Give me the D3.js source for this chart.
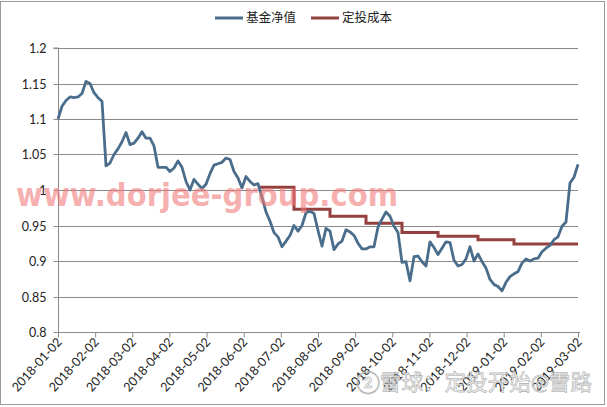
<!DOCTYPE html>
<html><head><meta charset="utf-8">
<script src="https://cdn.jsdelivr.net/npm/d3@7"></script>
<style>body{margin:0;background:#fff}svg{display:block}text{font-family:Lato,"Noto Sans CJK SC",sans-serif}</style>
</head><body>
<script>
const monthLabels = ["2018-01-02","2018-02-02","2018-03-02","2018-04-02","2018-05-02","2018-06-02","2018-07-02","2018-08-02","2018-09-02","2018-10-02","2018-11-02","2018-12-02","2019-01-02","2019-02-02","2019-03-02"];
const yTicks = [0.8,0.85,0.9,0.95,1,1.05,1.1,1.15,1.2];
const seriesNames = ["基金净值","定投成本"];
const nav = [1.100,1.118,1.126,1.131,1.130,1.131,1.136,1.153,1.150,1.137,1.130,1.125,1.034,1.038,1.050,1.058,1.068,1.081,1.064,1.066,
1.073,1.082,1.073,1.073,1.062,1.032,1.032,1.032,1.026,1.031,1.041,1.032,1.012,1.000,1.015,1.008,1.002,1.008,1.023,1.035,
1.037,1.039,1.045,1.043,1.026,1.017,1.003,1.019,1.012,1.007,1.009,0.990,0.969,0.956,0.940,0.934,0.920,0.928,0.936,0.950,
0.942,0.950,0.968,0.970,0.967,0.943,0.921,0.946,0.942,0.916,0.924,0.928,0.944,0.941,0.936,0.925,0.917,0.917,0.920,0.920,
0.948,0.959,0.969,0.963,0.949,0.940,0.898,0.899,0.872,0.906,0.907,0.899,0.893,0.927,0.919,0.909,0.918,0.927,0.926,0.901,
0.893,0.895,0.903,0.920,0.900,0.910,0.899,0.890,0.874,0.867,0.864,0.858,0.870,0.878,0.882,0.885,0.897,0.903,0.900,0.903,
0.904,0.913,0.918,0.922,0.930,0.934,0.949,0.955,1.010,1.018,1.036];
const cost = [].concat(
  Array(50).fill(null),
  Array(10).fill(1.004),
  Array(9).fill(0.973),
  Array(9).fill(0.963),
  Array(9).fill(0.953),
  Array(9).fill(0.940),
  Array(10).fill(0.935),
  Array(9).fill(0.930),
  Array(16).fill(0.924)
);
const watermark1 = "www.dorjee-group.com";
const watermark2 = "②雪球：定投开始@雪路";

const W=607,H=407, L=58, R=578, T=48, B=332;
const svg=d3.select("body").append("svg").attr("width",W).attr("height",H);
svg.append("rect").attr("x",0.5).attr("y",1.5).attr("width",W-3).attr("height",H-4).attr("fill","#fff").attr("stroke","#9a9a9a");

const x=d3.scaleLinear().domain([0,nav.length-1]).range([L,R]);
const xc=d3.scalePoint().domain(monthLabels).range([L,R]);
const y=d3.scaleLinear().domain([0.8,1.2]).range([B,T]);

svg.append("g").selectAll("line").data(yTicks.slice(1)).join("line")
  .attr("x1",L).attr("x2",R).attr("y1",d=>Math.round(y(d))+0.5).attr("y2",d=>Math.round(y(d))+0.5)
  .attr("stroke","#8a8a8a").attr("stroke-width",1);

const ya=svg.append("g").attr("transform",`translate(${L+0.5},0)`)
  .call(d3.axisLeft(y).tickValues(yTicks).tickFormat(d3.format("~g")).tickSize(5).tickPadding(7));
ya.select(".domain").attr("stroke","#8a8a8a").attr("d",`M-5,${y(1.2)}H0V${B}`);
ya.selectAll(".tick line").attr("stroke","#8a8a8a");
ya.selectAll(".tick").attr("transform",d=>`translate(0,${Math.round(y(d))+0.5})`);
ya.selectAll("text").attr("font-size",12.5).attr("fill","#222").style("font-family","Lato,sans-serif");

const xa=svg.append("g").attr("transform",`translate(0,${B+0.5})`)
  .call(d3.axisBottom(xc).tickSize(5).tickSizeOuter(0));
xa.select(".domain").attr("stroke","#8a8a8a").attr("d",`M${L},0H${R+2}`);
xa.selectAll(".tick line").attr("stroke","#8a8a8a");
xa.selectAll("text").attr("font-size",12.5).attr("fill","#222").style("font-family","Lato,sans-serif")
  .attr("text-anchor","end").attr("dy",null).attr("y",0)
  .attr("transform","translate(4,10) rotate(-48)");

const line=d3.line().defined(d=>d!=null).x((d,i)=>x(i)).y(d=>y(d));
svg.append("path").datum(cost).attr("d",d3.line().defined(d=>d!=null).x((d,i)=>x(i)).y(d=>y(d)).curve(d3.curveStepBefore))
  .attr("fill","none").attr("stroke","#93403f").attr("stroke-width",3);
svg.append("path").datum(nav).attr("d",line)
  .attr("fill","none").attr("stroke","#4a6d8c").attr("stroke-width",2.8).attr("stroke-linejoin","round");

const lg=[{n:seriesNames[0],c:"#4a6d8c",x:215},{n:seriesNames[1],c:"#93403f",x:311}];
lg.forEach(o=>{
  svg.append("line").attr("x1",o.x).attr("x2",o.x+28).attr("y1",18).attr("y2",18).attr("stroke",o.c).attr("stroke-width",3);
  svg.append("text").attr("x",o.x+31).attr("y",22).attr("font-size",12.5).attr("fill","#222").text(o.n);
});

svg.append("text").attr("x",16).attr("y",206).attr("font-size",32).attr("font-weight","bold")
  .style("font-family","'DejaVu Sans',sans-serif").attr("textLength",382).attr("lengthAdjust","spacingAndGlyphs")
  .attr("fill","#f07a7a").attr("fill-opacity",0.6).text(watermark1);
svg.append("text").attr("x",356).attr("y",390).attr("font-size",22)
  .attr("textLength",236).attr("lengthAdjust","spacingAndGlyphs")
  .attr("fill","#ffffff").attr("fill-opacity",0.85).attr("stroke","#9a9a9a").attr("stroke-width",0.8).attr("stroke-opacity",0.7)
  .text(watermark2);
</script>
</body></html>
